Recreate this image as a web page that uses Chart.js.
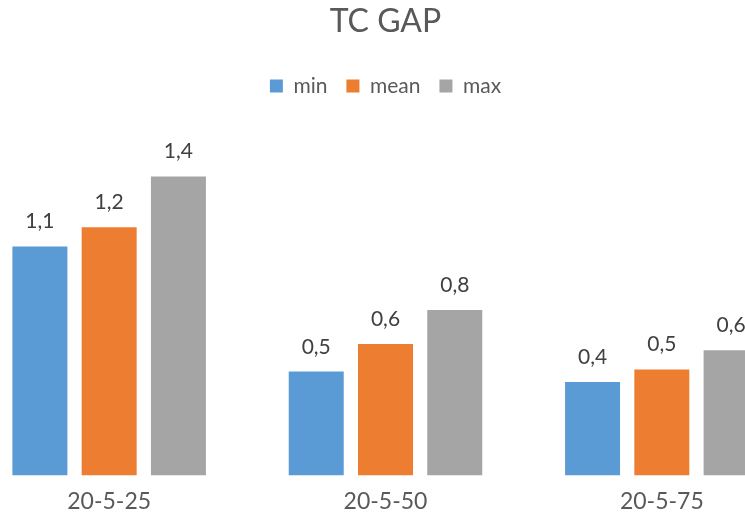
<!DOCTYPE html>
<html>
<head>
<meta charset="utf-8">
<script src="https://cdn.jsdelivr.net/npm/chart.js@4.4.1/dist/chart.umd.min.js"></script>
<style>
  html, body { margin: 0; padding: 0; width: 745px; height: 515px; overflow: hidden; background: #ffffff; }
  #wrap { position: absolute; left: -29px; top: 0; width: 829px; height: 527px; }
</style>
</head>
<body>
<div id="wrap"><canvas id="chart" width="829" height="527"></canvas></div>
<script>
// Categories and series
const categories = ['20-5-25', '20-5-50', '20-5-75'];
const seriesNames = ['min', 'mean', 'max'];
const minValues  = [1.08, 0.49, 0.44];
const meanValues = [1.17, 0.62, 0.50];
const maxValues  = [1.41, 0.78, 0.59];
const seriesColors = ['#5B9BD5', '#ED7D31', '#A5A5A5'];

const FONT = 'Lato';

// Writes each bar's value above it, with a decimal comma
const valueLabels = {
  id: 'valueLabels',
  afterDatasetsDraw(chart) {
    const ctx = chart.ctx;
    ctx.save();
    ctx.font = '21px ' + FONT;
    ctx.fillStyle = '#404040';
    ctx.textAlign = 'center';
    ctx.textBaseline = 'alphabetic';
    chart.data.datasets.forEach((ds, i) => {
      chart.getDatasetMeta(i).data.forEach((bar, j) => {
        const text = ds.data[j].toFixed(1).replace('.', ',');
        ctx.fillText(text, bar.x, bar.y - 18);
      });
    });
    ctx.restore();
  }
};

const seriesValues = [minValues, meanValues, maxValues];

new Chart(document.getElementById('chart'), {
  type: 'bar',
  data: {
    labels: categories,
    datasets: seriesNames.map((name, i) => ({
      label: name,
      data: seriesValues[i],
      backgroundColor: seriesColors[i],
      borderWidth: 0,
      categoryPercentage: 0.752,
      barPercentage: 0.794
    }))
  },
  options: {
    responsive: false,
    animation: false,
    devicePixelRatio: 1,
    layout: { padding: { left: 0, right: 0, top: 0, bottom: 0 } },
    plugins: {
      title: {
        display: true,
        text: 'TC GAP',
        color: '#595959',
        font: { family: FONT, size: 32, weight: 'normal' },
        padding: { top: 2.3, bottom: 15.8 }
      },
      legend: {
        display: true,
        position: 'top',
        labels: {
          color: '#595959',
          font: { family: FONT, size: 21 },
          boxWidth: 13,
          boxHeight: 13,
          padding: 19
        }
      },
      tooltip: { enabled: false }
    },
    scales: {
      x: {
        grid: { display: false, drawTicks: false },
        border: { display: false },
        ticks: {
          color: '#595959',
          font: { family: FONT, size: 23 },
          padding: 12
        }
      },
      y: {
        display: false,
        min: 0,
        max: 1.74
      }
    }
  },
  plugins: [valueLabels]
});
</script>
</body>
</html>
